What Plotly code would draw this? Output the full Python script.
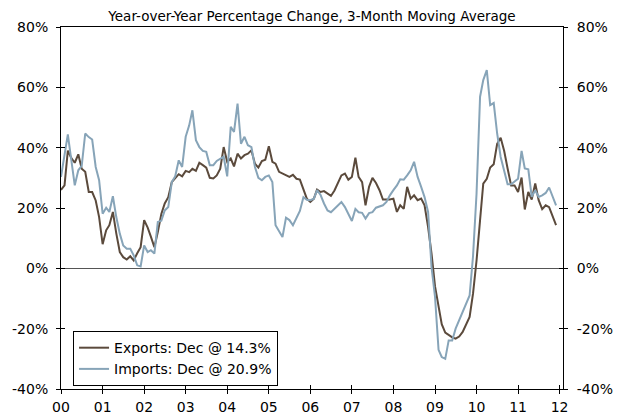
import pandas as pd
import plotly.graph_objects as go

title_text = "Year-over-Year Percentage Change, 3-Month Moving Average"

months = pd.date_range("2000-01-01", periods=144, freq="MS")

exports = [
    26, 27.5, 39, 36.5, 35, 37.8, 33, 32, 25.3, 25.3, 22.5, 17,           # 2000
    8, 12.6, 14.3, 18.7, 11.6, 5.4, 3.7, 2.9, 4, 2.6, 5, 7,               # 2001
    16, 13.5, 10.5, 7, 12, 18, 21.5, 23.6, 28.6, 30, 31.2, 30.5,          # 2002
    32.3, 31.9, 33, 32.3, 35, 34.2, 33.4, 30, 29.8, 30.8, 33, 40.2,       # 2003
    35.3, 36.4, 33.8, 38, 36.4, 37.5, 38, 39.1, 34.7, 33.4, 35.6, 36,     # 2004
    40.5, 35.3, 34.7, 32, 31.4, 31, 30.3, 31, 29.7, 29.4, 26.4, 23.1,     # 2005
    22, 23.1, 26.1, 25.3, 25.6, 24.8, 24, 25.8, 28.6, 30.8, 31.4, 29.4,   # 2006
    30.3, 36.7, 30.3, 28.6, 20.9, 27, 30, 28.3, 25.9, 22.8, 22.8, 22.8,   # 2007
    23.1, 18.7, 20.9, 19.7, 27, 23.1, 24.2, 22.6, 23.1, 20.9, 13.7, 5,    # 2008
    -6, -13, -18.5, -21.3, -22, -22.9, -23.3, -22.6, -21.1, -18.9, -16.1, -8.4,  # 2009
    2.6, 16, 28.1, 29.7, 33.4, 34.5, 41.3, 43.3, 38.9, 33.1, 27.5, 27.5,  # 2010
    25.3, 30.1, 19.5, 25.3, 22.8, 28.1, 22.6, 19.6, 20.9, 20.3, 17, 14.3, # 2011
]

imports = [
    30.3, 37, 44.4, 35.8, 27.5, 32.5, 34, 44.7, 43.5, 42.7, 33.6, 29.2,   # 2000
    18.1, 20.1, 18.7, 23.9, 17, 11.5, 7.6, 6.5, 6.5, 4.3, 1, 0.6,         # 2001
    7.6, 5.4, 6, 4.9, 15.4, 15.8, 19.2, 20.3, 28.6, 30.5, 35.8, 33.6,     # 2002
    43.6, 47.4, 52.4, 42.5, 40.2, 38.9, 38.6, 34.2, 34.2, 35.6, 36.4, 37, # 2003
    30.5, 46.9, 45.2, 54.6, 41.3, 43.6, 40.8, 40.2, 33.6, 30, 29.2, 30.3, # 2004
    30.8, 28.6, 14.3, 12.4, 10.4, 16.8, 16, 14.3, 16.5, 19, 23.6, 22.7,   # 2005
    22.6, 23.1, 25.9, 24.3, 21.5, 19.2, 18.6, 19.7, 20.9, 22, 20.3, 18.1, # 2006
    15.7, 19.7, 18.6, 18.4, 16.5, 18.3, 18.6, 20.1, 20.6, 20.9, 22, 24.2, # 2007
    25.9, 27.5, 29.5, 29.4, 30.8, 32.5, 35.3, 30.3, 27, 23.6, 18.7, 0.5,  # 2008
    -9.5, -27, -29.4, -30, -23.9, -23.9, -20, -17.3, -14.5, -11.7, -9, 4, # 2009
    24.8, 56.9, 62.4, 65.7, 54.1, 54.8, 44.7, 36.9, 32.5, 27.9, 27.9, 28.8,  # 2010
    29.7, 38.9, 33.1, 32.8, 23.7, 25.9, 23.7, 24.2, 25, 26.8, 23.7, 20.9, # 2011
]

assert len(exports) == 144 and len(imports) == 144

export_name = "Exports: Dec @ 14.3%"
import_name = "Imports: Dec @ 20.9%"

y_ticks = [-40, -20, 0, 20, 40, 60, 80]
y_tick_labels = ["-40%", "-20%", "0%", "20%", "40%", "60%", "80%"]
year_ticks = pd.date_range("2000-01-01", periods=13, freq="YS")
year_labels = ["00", "01", "02", "03", "04", "05", "06", "07", "08", "09", "10", "11", "12"]

FONT = "DejaVu Sans, Verdana, sans-serif"
FS = 14
EXP_COLOR = "#5b4a3c"
IMP_COLOR = "#87a4b8"
X_RANGE = ["2000-01-01", "2012-01-31"]

# the page places the figure 8px from the top-left of the window,
# so the figure is sized to fill the rest of the 624x414 view
W, H = 616, 406

fig = go.Figure()
fig.add_trace(go.Scatter(x=months, y=exports, name=export_name, mode="lines",
                         line=dict(color=EXP_COLOR, width=2), hoverinfo="skip"))
fig.add_trace(go.Scatter(x=months, y=imports, name=import_name, mode="lines",
                         line=dict(color=IMP_COLOR, width=2), hoverinfo="skip"))
# empty helper traces that attach the overlay axes (for crossing tick marks)
for xa, ya in [("x", "y2"), ("x2", "y"), ("x", "y3"), ("x", "y4")]:
    fig.add_trace(go.Scatter(x=[], y=[], xaxis=xa, yaxis=ya, showlegend=False,
                             hoverinfo="skip", mode="lines"))

tickfont = dict(family=FONT, size=FS, color="black")

common_x = dict(type="date", range=X_RANGE, tickvals=year_ticks, ticktext=year_labels,
                showgrid=False, zeroline=False, ticklen=4, tickcolor="black", tickwidth=1,
                automargin=False)
common_y = dict(range=[-40, 80], tickvals=y_ticks, ticktext=y_tick_labels,
                showgrid=False, ticklen=4, tickcolor="black", tickwidth=1,
                automargin=False)

fig.update_layout(
    width=W, height=H,
    margin=dict(l=53, r=61, t=19, b=25, autoexpand=False),
    paper_bgcolor="white", plot_bgcolor="white",
    font=dict(family=FONT, size=FS, color="black"),
    title=dict(text=title_text, x=(312 - 8) / W, xanchor="center", y=1 - 8.5 / H,
               yanchor="middle", font=dict(family=FONT, size=13.5, color="black"),
               automargin=False),
    showlegend=True,
    legend=dict(x=0.024, y=0.084, xanchor="left", yanchor="middle",
                bordercolor="black", borderwidth=1, bgcolor="white",
                font=dict(family=FONT, size=FS, color="black"), tracegroupgap=0),
    xaxis=dict(**common_x, ticks="outside", showline=True, linecolor="black", linewidth=1,
               mirror=True, tickfont=tickfont, ticklabelstandoff=1),
    xaxis2=dict(**common_x, overlaying="x", anchor="y", ticks="inside", showline=False,
                showticklabels=False),
    yaxis=dict(**common_y, ticks="outside", showline=True, linecolor="black", linewidth=1,
               zeroline=True, zerolinecolor="#555555", zerolinewidth=1.3,
               tickfont=tickfont, ticklabelstandoff=5),
    yaxis2=dict(**common_y, overlaying="y", side="right", anchor="x", ticks="outside",
                showline=True, linecolor="black", linewidth=1, zeroline=False,
                tickfont=tickfont, ticklabelstandoff=6),
    yaxis3=dict(**common_y, overlaying="y", side="left", anchor="x", ticks="inside",
                showline=False, zeroline=False, showticklabels=False),
    yaxis4=dict(**common_y, overlaying="y", side="right", anchor="x", ticks="inside",
                showline=False, zeroline=False, showticklabels=False),
)

fig.write_html("out.html")
